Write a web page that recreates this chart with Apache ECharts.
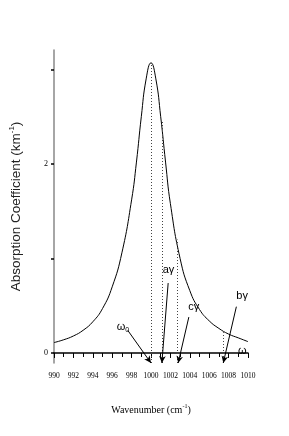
<!DOCTYPE html>
<html><head><meta charset="utf-8">
<script src="https://cdn.jsdelivr.net/npm/echarts@6/dist/echarts.min.js"></script>
<style>html,body{margin:0;padding:0;background:#fff}#c{width:289px;height:436px}</style>
</head><body><div id="c"></div>
<script>
// Curve samples
var wavenumbers = [990,991,992,993,994,995,996,997,998,998.5,999,999.5,1000,1000.5,1001,1001.5,1002,1003,1004,1005,1006,1007,1008,1009,1010];
var absorption  = [0.11,0.14,0.18,0.24,0.33,0.47,0.70,1.06,1.62,2.02,2.5,2.9,3.07,2.9,2.5,2.02,1.58,1.0,0.66,0.46,0.34,0.26,0.20,0.16,0.12];
var xTicks = [990,992,994,996,998,1000,1002,1004,1006,1008,1010];
var yTickLabels = [0,2];
var yTicks = [0,1,2,3];
// dotted guides: wavenumber and curve height
var guideX = [1000, 1001.15, 1002.7, 1007.4];
var guideTop = [3.07, 2.45, 1.2, 0.22];
// annotations: label, label position, arrow start, arrow end
var annLabels = ['ω0', 'aγ', 'cγ', 'bγ'];
var annLabelPos = [[997.1,0.28],[1001.8,0.88],[1004.4,0.49],[1009.4,0.60]];
var annFrom = [[997.6,0.24],[1001.77,0.74],[1003.9,0.38],[1008.8,0.49]];
var annTo = [[1000,-0.106],[1001.12,-0.106],[1002.8,-0.106],[1007.45,-0.106]];
var omegaPos = [1009.4, 0.02];

var YMIN = -0.106, YMAX = 3.206;
var serif = 'Liberation Serif';
var sans = 'Liberation Sans';

var chart = echarts.init(document.getElementById('c'), null, {renderer:'canvas'});
var curve = wavenumbers.map(function(x,i){return [x, absorption[i]];});
var guides = guideX.map(function(x,i){return [{coord:[x,YMIN]},{coord:[x,guideTop[i]]}];});
var arrows = annFrom.map(function(p,i){return [{coord:p},{coord:annTo[i]}];});
var labelPts = annLabels.map(function(t,i){
  var txt = t === 'ω0' ? '{w|ω}{s|0}' : '{w|' + t + '}';
  return {coord:annLabelPos[i], label:{formatter: txt}};
});
labelPts.push({coord:omegaPos, label:{formatter:'{w|ω}'}});

chart.setOption({
  animation:false,
  backgroundColor:'#fff',
  grid:{left:52, right:41, top:50, bottom:73},
  xAxis:{
    type:'value', min:990, max:1010, interval:2,
    name:'Wavenumber (cm{sup|-1})', nameLocation:'middle', nameGap:40,
    nameTextStyle:{fontFamily:serif, fontSize:10, color:'#000',
      rich:{sup:{fontFamily:serif, fontSize:6, verticalAlign:'top', padding:[0,0,8,0], color:'#000'}}},
    axisLine:{lineStyle:{color:'#000', width:1.5}},
    axisTick:{length:5, lineStyle:{color:'#000'}},
    minorTick:{show:true, splitNumber:2, length:4, lineStyle:{color:'#000'}},
    axisLabel:{fontFamily:serif, fontSize:7.5, color:'#000', margin:9,
      customValues: xTicks, formatter:function(v){return String(v);}},
    splitLine:{show:false}
  },
  yAxis:{
    type:'value', min:YMIN, max:YMAX,
    name:'Absorption Coefficient (km{sup|-1})', nameLocation:'middle', nameGap:30,
    nameTextStyle:{fontFamily:sans, fontSize:13.5, color:'#222',
      rich:{sup:{fontFamily:sans, fontSize:8, verticalAlign:'top', padding:[0,0,8,0], color:'#222'}}},
    axisLine:{lineStyle:{color:'#888', width:1.5}},
    axisTick:{length:3, customValues: yTicks, lineStyle:{color:'#000', width:1.5}},
    axisLabel:{fontFamily:serif, fontSize:8, color:'#000', margin:6, customValues: yTickLabels,
      formatter:function(v){return String(v);}},
    splitLine:{show:false}
  },
  series:[{
    type:'line', data:curve, smooth:0.5, symbol:'none',
    lineStyle:{color:'#000', width:1},
    markLine:{
      silent:true, symbol:['none','none'], animation:false,
      lineStyle:{color:'#444', type:[1,2], width:1},
      label:{show:false},
      data: guides
    }
  },{
    type:'line', data:[], symbol:'none',
    markLine:{
      silent:true, symbol:['none','arrow'], symbolSize:[5,7], animation:false,
      lineStyle:{color:'#000', type:'solid', width:1},
      label:{show:false},
      data: arrows
    },
    markPoint:{
      silent:true, symbol:'circle', symbolSize:0, animation:false,
      label:{show:true, position:'inside',
        rich:{w:{fontFamily:sans, fontSize:11, color:'#000'},
              s:{fontFamily:sans, fontSize:7, color:'#000', verticalAlign:'bottom', padding:[8,0,0,0]}}},
      data: labelPts
    }
  }]
});
</script></body></html>
